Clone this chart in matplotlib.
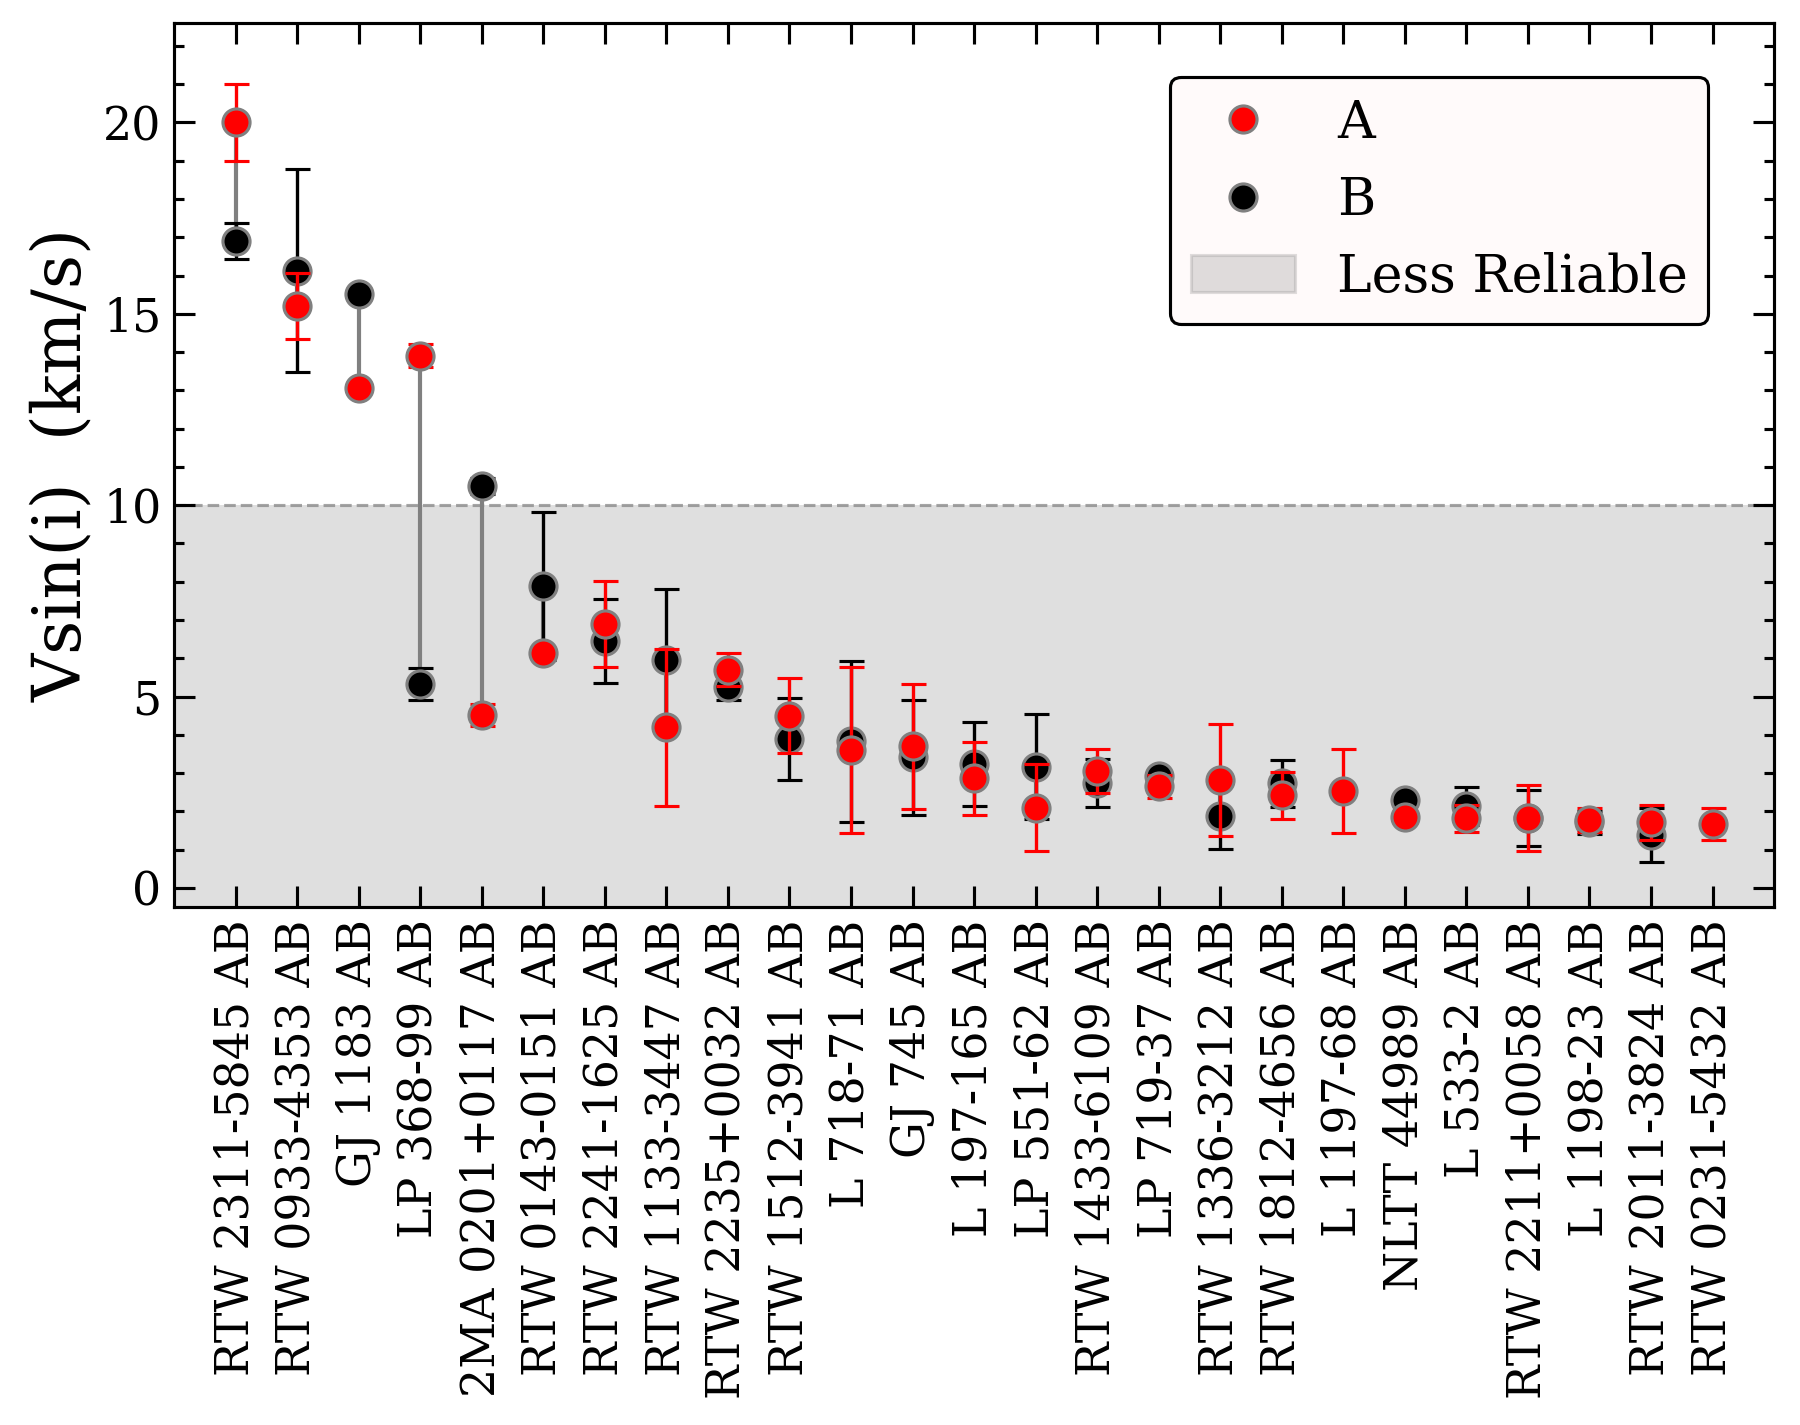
import numpy as np
import matplotlib
matplotlib.use("Agg")
import matplotlib.pyplot as plt
from matplotlib.ticker import MultipleLocator
from matplotlib.patches import Patch
from matplotlib.lines import Line2D

plt.rcParams['font.family'] = ['DejaVu Serif']

names = ["RTW 2311-5845 AB", "RTW 0933-4353 AB", "GJ 1183 AB", "LP 368-99 AB",
         "2MA 0201+0117 AB", "RTW 0143-0151 AB", "RTW 2241-1625 AB", "RTW 1133-3447 AB",
         "RTW 2235+0032 AB", "RTW 1512-3941 AB", "L 718-71 AB", "GJ 745 AB",
         "L 197-165 AB", "LP 551-62 AB", "RTW 1433-6109 AB", "LP 719-37 AB",
         "RTW 1336-3212 AB", "RTW 1812-4656 AB", "L 1197-68 AB", "NLTT 44989 AB",
         "L 533-2 AB", "RTW 2211+0058 AB", "L 1198-23 AB", "RTW 2011-3824 AB",
         "RTW 0231-5432 AB"]

# vsini of component A and B (km/s) with errors
vA = [20.0, 15.2, 13.05, 13.9, 4.52, 6.15, 6.9, 4.2, 5.7, 4.5, 3.6, 3.7, 2.86,
      2.1, 3.06, 2.65, 2.82, 2.42, 2.54, 1.84, 1.82, 1.82, 1.78, 1.71, 1.66]
eA = [1.0, 0.87, 0.1, 0.3, 0.28, 0.1, 1.13, 2.05, 0.43, 0.98, 2.16, 1.63, 0.96,
      1.13, 0.57, 0.3, 1.47, 0.62, 1.1, 0.1, 0.35, 0.86, 0.31, 0.45, 0.42]
vB = [16.9, 16.13, 15.51, 5.33, 10.5, 7.89, 6.45, 5.96, 5.26, 3.89, 3.83, 3.41, 3.24,
      3.17, 2.75, 2.93, 1.88, 2.73, np.nan, 2.3, 2.13, 1.83, 1.72, 1.38, np.nan]
eB = [0.48, 2.66, 0.1, 0.42, 0.2, 1.93, 1.1, 1.84, 0.36, 1.07, 2.1, 1.5, 1.1,
      1.37, 0.63, 0.1, 0.87, 0.62, np.nan, 0.1, 0.5, 0.73, 0.3, 0.7, np.nan]

limit = 10.0

x = np.arange(len(names))
vA = np.array(vA); vB = np.array(vB)
eA = np.array(eA); eB = np.array(eB)

fig = plt.figure(figsize=(12, 9.5), dpi=150)
ax = fig.add_axes([0.0967, 0.3635, 0.8889, 0.6204])

ax.axhspan(-5, limit, color='gray', alpha=0.25, lw=0, zorder=0)
ax.axhline(limit, color='gray', ls='--', lw=1.5, alpha=0.7, zorder=0.5)

ok = ~np.isnan(vB)
ax.vlines(x[ok], vA[ok], vB[ok], color='gray', lw=2, zorder=1)

ax.errorbar(x[ok], vB[ok], yerr=eB[ok], fmt='o', color='k', ms=13, mec='gray',
            mew=1.5, ecolor='k', elinewidth=1.6, capsize=6, capthick=1.6, zorder=2)
ax.errorbar(x, vA, yerr=eA, fmt='o', color='red', ms=13, mec='gray',
            mew=1.5, ecolor='red', elinewidth=1.6, capsize=6, capthick=1.6, zorder=3)

ax.set_xlim(-1, len(names))
ax.set_ylim(-0.5, 22.6)
ax.set_xticks(x)
ax.set_xticklabels(names, rotation=90, fontsize=22)
ax.yaxis.set_major_locator(MultipleLocator(5))
ax.yaxis.set_minor_locator(MultipleLocator(1))
ax.tick_params(axis='both', which='major', direction='in', top=True, right=True,
               length=10, width=1.5, labelsize=22, pad=6)
ax.tick_params(axis='y', which='minor', direction='in', right=True, length=5, width=1.5)
for s in ax.spines.values():
    s.set_linewidth(1.5)

ax.set_ylabel('Vsin(i)  (km/s)', fontsize=32)

handles = [Line2D([], [], ls='none', marker='o', color='red', mec='gray', ms=13, mew=1.5),
           Line2D([], [], ls='none', marker='o', color='k', mec='gray', ms=13, mew=1.5),
           Patch(facecolor='gray', alpha=0.25, edgecolor='gray', lw=1.5)]
leg = ax.legend(handles, ['A', 'B', 'Less Reliable'], loc='upper right',
                bbox_to_anchor=(0.959, 0.939), borderaxespad=0, fontsize=25,
                facecolor='#fffafa', edgecolor='k', framealpha=1)
leg.get_frame().set_linewidth(1.5)

fig.savefig('out.png', dpi=150)
